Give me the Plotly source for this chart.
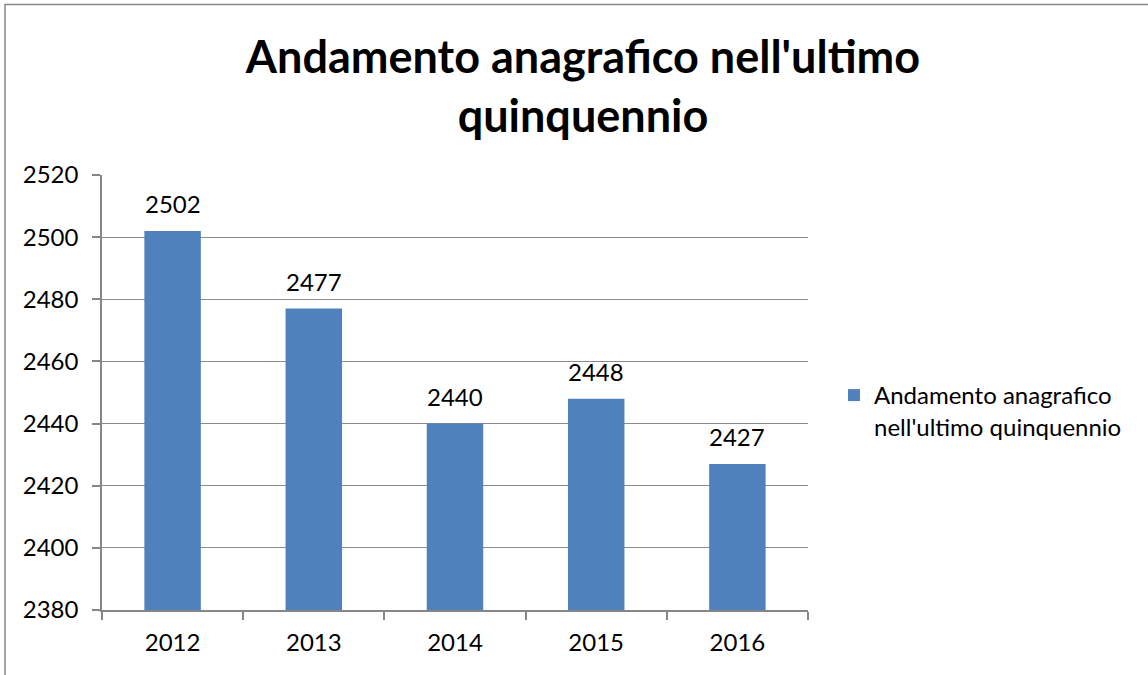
import plotly.graph_objects as go

years = ["2012", "2013", "2014", "2015", "2016"]
values = [2502, 2477, 2440, 2448, 2427]
series_name = "Andamento anagrafico<br>nell'ultimo quinquennio"
title_text = "Andamento anagrafico nell'ultimo<br>quinquennio"
y_ticks = [2380, 2400, 2420, 2440, 2460, 2480, 2500, 2520]

W, H = 1148, 675
L, R, T, B = 102, 340, 175, 65
pw, ph = W - L - R, H - T - B

FONT = "Lato"
FS = 24

fig = go.Figure()
fig.add_trace(go.Bar(
    x=years, y=values, name=series_name,
    marker=dict(color="#4F81BD", line=dict(width=0)),
    width=0.4,
    showlegend=True,
))

# category axes index categories by position
for i, v in enumerate(values):
    fig.add_annotation(x=i, y=v, text=str(v), showarrow=False,
                       yanchor="middle", yshift=27,
                       font=dict(family=FONT, size=FS, color="#000000"))

def px_x(x):
    return (x - L) / pw

def px_y(y):
    return (H - B - y) / ph

fig.update_layout(
    width=W, height=H,
    margin=dict(l=L, r=R, t=T, b=B),
    paper_bgcolor="white", plot_bgcolor="white",
    font=dict(family=FONT, size=FS, color="#000000"),
    title=dict(text="<b>" + title_text + "</b>", xref="container", yref="container",
               x=583 / W, y=1 - 73 / H, xanchor="center", yanchor="middle",
               font=dict(family=FONT, size=45, color="#000000")),
    bargap=0.6,
    xaxis=dict(
        type="category", categoryorder="array", categoryarray=years,
        range=[-0.5, len(years) - 0.5],
        showline=True, linecolor="#868686", linewidth=1.5,
        ticks="outside", tickson="boundaries", ticklen=8, tickcolor="#868686",
        tickwidth=1.5, ticklabelstandoff=10, tickangle=0, automargin=False,
        tickfont=dict(family=FONT, size=FS, color="#000000"),
        showgrid=False, fixedrange=True,
    ),
    yaxis=dict(
        range=[2380, 2520], tickvals=y_ticks,
        showline=True, linecolor="#868686", linewidth=1.5,
        ticks="outside", ticklen=8, tickcolor="#868686", tickwidth=1.5,
        ticklabelstandoff=9, automargin=False,
        showgrid=True, gridcolor="#8c8c8c", gridwidth=1.2,
        tickfont=dict(family=FONT, size=FS, color="#000000"),
        zeroline=False, fixedrange=True,
    ),
    legend=dict(
        x=px_x(834), y=px_y(411), xanchor="left", yanchor="middle",
        font=dict(family=FONT, size=FS, color="#000000"),
        itemwidth=30, valign="top",
        bgcolor="rgba(0,0,0,0)",
    ),
    shapes=[dict(type="rect", xref="paper", yref="paper",
                 x0=px_x(5), x1=px_x(1160), y0=px_y(690), y1=px_y(4.5),
                 line=dict(color="#868686", width=1.5), fillcolor="rgba(0,0,0,0)",
                 layer="below")],
)

fig.write_html("out.html", config={"displayModeBar": False},
               post_script="document.body.style.margin='0';document.body.style.overflow='hidden';")
